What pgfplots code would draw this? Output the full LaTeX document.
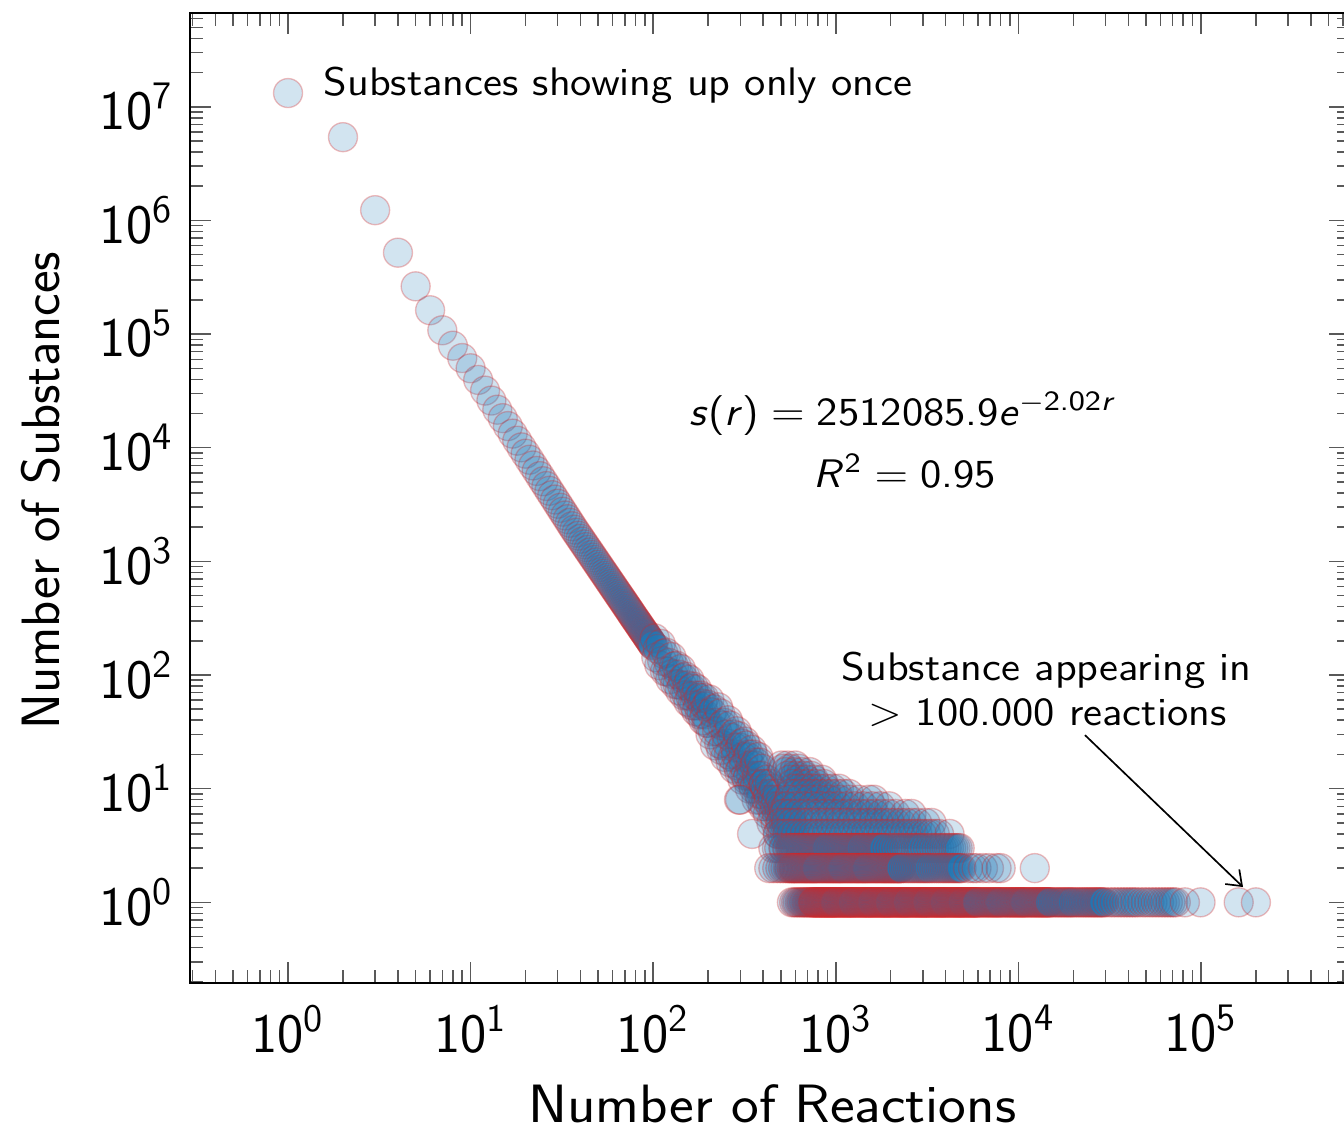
\documentclass[border=0pt]{standalone}
\usepackage{pgfplots}
\pgfplotsset{compat=1.18}
\usetikzlibrary{arrows.meta}
\definecolor{tabblue}{RGB}{31,119,180}
\definecolor{tabred}{RGB}{214,39,40}
\newcommand{\annfont}{\fontsize{11.8}{14}\selectfont\sffamily}
\newcommand{\eqsp}{\hspace{0.28em}$=$\hspace{0.28em}}
\pgfplotsset{dot/.style={only marks, mark=*, mark size=4.3pt, mark options={fill=tabblue, draw=tabred, fill opacity=0.2, draw opacity=0.3, line width=0.4pt}}}
\begin{document}
\begin{tikzpicture}
\begin{axis}[
  at={(0,0)}, anchor=south west, scale only axis,
  width=12.083cm, height=10.101cm,
  xmode=log, ymode=log, log basis x=10, log basis y=10,
  xmin=0.2904, xmax=6.55e5, ymin=0.195, ymax=6.64e7,
  xtick={1,10,100,1000,10000,100000},
  ytick={1,10,100,1000,10000,100000,1000000,10000000},
  minor xtick={0.3,0.4,0.5,0.6,0.7,0.8,0.9,2,3,4,5,6,7,8,9,20,30,40,50,60,70,80,90,200,300,400,500,600,700,800,900,2000,3000,4000,5000,6000,7000,8000,9000,20000,30000,40000,50000,60000,70000,80000,90000,200000,300000,400000,500000,600000},
  minor ytick={0.2,0.3,0.4,0.5,0.6,0.7,0.8,0.9,2,3,4,5,6,7,8,9,20,30,40,50,60,70,80,90,200,300,400,500,600,700,800,900,2000,3000,4000,5000,6000,7000,8000,9000,20000,30000,40000,50000,60000,70000,80000,90000,200000,300000,400000,500000,600000,700000,800000,900000,2000000,3000000,4000000,5000000,6000000,7000000,8000000,9000000,20000000,30000000,40000000,50000000,60000000},
  xticklabel={\pgfmathtruncatemacro{\myexp}{round(\tick)}10\textsuperscript{\myexp}},
  yticklabel={\pgfmathtruncatemacro{\myexp}{round(\tick)}10\textsuperscript{\myexp}},
  tick label style={font=\fontsize{16.5}{19}\selectfont\sffamily},
  xticklabel style={yshift=-3pt},
  yticklabel style={xshift=-1.5pt},
  major tick length=6.2pt, minor tick length=3.9pt,
  tick style={color=black!65, line width=0.45pt},
  axis line style={line width=0.6pt},
  xlabel={Number of Reactions}, ylabel={Number of Substances},
  every axis x label/.style={at={(axis description cs:0.502,-0.124)}, anchor=center, inner sep=0pt, xscale=1.09, font=\fontsize{16}{19}\selectfont\sffamily},
  every axis y label/.style={at={(axis description cs:-0.129,0.508)}, anchor=center, inner sep=0pt, rotate=90, font=\fontsize{16}{19}\selectfont\sffamily},
]
% main diagonal
\addplot[dot] coordinates {(1,1.32e7)(2,5.4e6)(3,1.23e6)(4,5.2e5)(5,2.63e5)(6,1.62e5)(7,1.08e5)(8,7.9e4)(9,6.15e4)(10,5.0e4)(11,3.95e4)(12,3.18e4)(13,2.6e4)(14,2.16e4)(15,1.82e4)(16,1.55e4)(17,1.33e4)(18,11530)(19,10070)(20,8860)(21,7840)(22,6980)(23,6250)(24,5620)(25,5070)(26,4600)(27,4180)(28,3820)(29,3500)(30,3215)(31,2962)(32,2736)(33,2533)(34,2351)(35,2186)(36,2038)(37,1903)(38,1787)(39,1681)(40,1583)(41,1494)(42,1411)(43,1335)(44,1264)(45,1199)(46,1139)(47,1082)(48,1030)(49,981)(50,935)(51,892)(52,852)(53,815)(54,780)(55,747)(56,716)(57,686)(58,659)(59,633)(60,608)(61,585)(62,563)(63,542)(64,522)(65,504)(66,486)(67,469)(68,453)(69,438)(70,423)(71,409)(72,396)(73,383)(74,371)(75,359)(76,348)(77,337)(78,327)(79,317)(80,308)(81,299)(82,291)(83,283)(84,275)(85,267)(86,260)(87,253)(88,246)(89,240)(90,234)(91,228)(92,222)(93,216)(94,211)(95,206)(96,201)(97,196)(98,191)(99,186)(100,182)
(102,210)(104,143)(106,170)(108,122)(110,188)(112,133)(114,154)(116,108)(118,157)(120,107)(122,128)(124,92)(126,144)(128,102)(130,119)(132,83)(134,121)(136,83)(138,101)(140,73)(142,113)(144,81)(146,94)(148,66)(150,97)(152,67)(154,81)(156,58)(158,91)(160,65)(162,76)(164,54)(166,79)(168,54)(170,66)(172,48)(174,75)(176,54)(178,63)(180,45)(182,66)(184,46)(186,56)(188,40)(190,63)(192,45)(194,53)(196,38)(198,55)(200,38)
(203,61)(206,30)(209,47)(212,32)(215,50)(218,24)(221,38)(224,32)(227,52)(230,25)(233,46)(236,22)(239,36)(242,24)(245,38)(248,19)(251,30)(254,25)(257,40)(260,20)(263,36)(266,17)(269,28)(272,19)(275,30)(278,15)(281,23)(284,20)(287,32)(290,16)(293,29)(296,14)(299,23)(302,15)(305,25)(308,12)(311,19)(314,16)(317,26)(320,13)(323,24)(326,12)(329,19)(332,13)(335,20)(338,10)(341,16)(344,13)(347,22)(350,11)(353,20)(356,10)(359,16)(362,11)(365,17)(368,8)(371,13)(374,11)(377,19)(380,9)(383,17)(386,8)(389,13)(392,9)(395,15)(398,7)(401,11)
(404,11)(408,7)(412,10)(416,8)(420,12)(424,6)(428,9)(432,8)(436,11)(440,7)(444,5)(448,9)(452,8)(456,6)(460,10)(464,7)(468,5)(472,8)(476,6)(480,9)(484,4)(488,7)(492,6)(496,5)(500,8)(504,4)(508,6)(512,7)(516,3)(520,5)(524,6)(528,4)(532,7)(536,5)(540,3)(544,6)(548,4)(552,5)(556,2)(560,4)(564,6)(568,3)(572,5)(580,4)(584,3)(588,5)(592,2)(596,4)(600,3)
(295,8)(299,8)(348,4)(476,3)};
% higher rows
\addplot[dot] coordinates {(505,16)(545,16)(600,16)(515,15)(560,15)(625,15)(530,14)(590,14)(650,14)(720,14)(545,13)(600,13)(665,13)(730,13)(560,12)(620,12)(690,12)(760,12)(840,12)(575,11)(640,11)(705,11)(780,11)(860,11)
(580,10)(630,10)(690,10)(750,10)(810,10)(880,10)(960,10)(1040,10)
(565,9)(610,9)(655,9)(705,9)(760,9)(815,9)(880,9)(945,9)(1020,9)(1100,9)(1180,9)
(555,8)(629,8)(714,8)(810,8)(918,8)(1042,8)(1182,8)(1340,8)(1520,8)(1620,8)
(540,7)(601,7)(669,7)(745,7)(829,7)(923,7)(1027,7)(1143,7)(1273,7)(1417,7)(1577,7)(1755,7)(1960,7)
(520,6)(568,6)(620,6)(677,6)(739,6)(807,6)(881,6)(962,6)(1051,6)(1148,6)(1253,6)(1369,6)(1494,6)(1632,6)(1782,6)(1946,6)(2125,6)(2400,6)(2600,6)
(500,5)(536,5)(574,5)(615,5)(659,5)(706,5)(756,5)(810,5)(868,5)(930,5)(996,5)(1067,5)(1143,5)(1224,5)(1312,5)(1405,5)(1505,5)(1612,5)(1727,5)(1850,5)(1982,5)(2123,5)(2274,5)(2436,5)(2610,5)(2796,5)(3100,5)(3350,5)
(480,4)(512,4)(543,4)(574,4)(607,4)(641,4)(677,4)(715,4)(755,4)(798,4)(843,4)(890,4)(940,4)(993,4)(1048,4)(1107,4)(1169,4)(1235,4)(1304,4)(1377,4)(1455,4)(1536,4)(1623,4)(1714,4)(1810,4)(1911,4)(2019,4)(2132,4)(2252,4)(2378,4)(2512,4)(2653,4)(2802,4)(2959,4)(3125,4)(3300,4)(3485,4)(3681,4)(4200,4)};
% row 3
\addplot[dot] coordinates {(455,3)(490,3)(520,3)(545,3)(560,3)(571,3)(582,3)(593,3)(604,3)(615,3)(626,3)(637,3)(648,3)(659,3)(670,3)(681,3)(692,3)(703,3)(714,3)(725,3)(736,3)(747,3)(758,3)(769,3)(780,3)(791,3)(802,3)(813,3)(824,3)(835,3)(846,3)(857,3)(868,3)(879,3)(890,3)
(902,3)(920,3)(937,3)(955,3)(972,3)(990,3)(1007,3)(1025,3)(1042,3)(1060,3)(1077,3)(1095,3)(1112,3)(1130,3)(1147,3)(1165,3)(1182,3)(1200,3)(1217,3)(1235,3)(1252,3)(1270,3)(1287,3)(1305,3)(1322,3)(1340,3)(1357,3)(1375,3)(1392,3)
(1420,3)(1445,3)(1470,3)(1495,3)(1520,3)(1545,3)(1570,3)(1595,3)(1620,3)(1645,3)(1670,3)(1695,3)(1720,3)(1745,3)(1770,3)(1795,3)(1820,3)(1845,3)
(1920,3)(1995,3)(2070,3)(2145,3)(2220,3)(2295,3)(2370,3)(2445,3)(2520,3)(2595,3)(2670,3)(2745,3)(2820,3)(2895,3)(2970,3)(3090,3)(3210,3)(3330,3)(3450,3)(3570,3)(3690,3)(3810,3)(3930,3)(4050,3)(4170,3)(4290,3)(4410,3)(4530,3)(4650,3)(4770,3)};
% row 2
\addplot[dot] coordinates {(432,2)(455,2)(478,2)(497,2)(515,2)(530,2)(546,2)(558,2)
(570,2)(577,2)(585,2)(592,2)(600,2)(607,2)(615,2)(622,2)(630,2)(637,2)(645,2)(652,2)(660,2)(667,2)(675,2)(682,2)(690,2)(697,2)(705,2)(712,2)(720,2)(727,2)(735,2)(742,2)(750,2)(757,2)(765,2)(772,2)(780,2)(787,2)(795,2)
(806,2)(817,2)(828,2)(839,2)(850,2)(861,2)(872,2)(883,2)(894,2)(905,2)(916,2)(927,2)(938,2)(949,2)(960,2)(971,2)(982,2)(993,2)(1004,2)(1015,2)(1026,2)(1037,2)(1048,2)(1059,2)(1070,2)(1081,2)(1092,2)
(1105,2)(1120,2)(1135,2)(1150,2)(1165,2)(1180,2)(1195,2)(1210,2)(1225,2)(1240,2)(1255,2)(1270,2)(1285,2)(1300,2)(1315,2)(1330,2)(1345,2)(1360,2)(1375,2)(1390,2)(1405,2)(1420,2)(1435,2)(1450,2)(1465,2)(1480,2)(1495,2)
(1516,2)(1537,2)(1558,2)(1579,2)(1600,2)(1621,2)(1642,2)(1663,2)(1684,2)(1705,2)(1726,2)(1747,2)(1768,2)(1789,2)(1810,2)(1831,2)(1852,2)(1873,2)(1894,2)(1915,2)(1936,2)(1957,2)(1978,2)(1999,2)(2020,2)(2041,2)(2062,2)(2083,2)(2104,2)(2125,2)(2146,2)(2167,2)(2188,2)(2209,2)(2230,2)(2251,2)(2272,2)(2293,2)
(2360,2)(2425,2)(2490,2)(2555,2)(2620,2)(2685,2)(2750,2)(2815,2)(2880,2)(2945,2)(3010,2)(3075,2)(3140,2)(3205,2)(3270,2)(3365,2)(3460,2)(3555,2)(3650,2)(3745,2)(3840,2)(3935,2)(4030,2)(4125,2)(4220,2)(4315,2)(4410,2)(4505,2)(4600,2)(4695,2)(4790,2)(4885,2)
(5300,2)(5650,2)(5900,2)(6400,2)(6900,2)(7600,2)(8000,2)(12300,2)};
% row 1
\addplot[dot] coordinates {(575,1)(592,1)(606,1)(618,1)(633,1)(645,1)(655,1)(667,1)(676,1)(688,1)(697,1)(706,1)(716,1)(724,1)(733,1)(741,1)(749,1)
(753,1)(758,1)(762,1)(767,1)(773,1)(777,1)(782,1)(788,1)(792,1)(797,1)(803,1)(807,1)(812,1)(818,1)(822,1)(827,1)(833,1)(837,1)(842,1)(848,1)(852,1)(857,1)(863,1)(867,1)(872,1)(878,1)(882,1)(887,1)(893,1)(897,1)(902,1)(908,1)(912,1)(917,1)(923,1)(927,1)(932,1)(938,1)(942,1)(947,1)(953,1)(957,1)(962,1)(968,1)(972,1)(977,1)(983,1)(987,1)(992,1)(998,1)
(1004,1)(1011,1)(1017,1)(1025,1)(1031,1)(1038,1)(1046,1)(1052,1)(1059,1)(1067,1)(1073,1)(1080,1)(1088,1)(1094,1)(1101,1)(1109,1)(1115,1)(1122,1)(1130,1)(1136,1)(1143,1)(1151,1)(1157,1)(1164,1)(1172,1)(1178,1)(1185,1)(1193,1)(1199,1)(1206,1)(1214,1)(1220,1)(1227,1)(1235,1)(1241,1)(1248,1)
(1257,1)(1266,1)(1276,1)(1284,1)(1293,1)(1303,1)(1311,1)(1320,1)(1330,1)(1338,1)(1347,1)(1357,1)(1365,1)(1374,1)(1384,1)(1392,1)(1401,1)(1411,1)(1419,1)(1428,1)(1438,1)(1446,1)(1455,1)(1465,1)(1473,1)(1482,1)(1492,1)(1500,1)(1509,1)(1519,1)(1527,1)(1536,1)(1546,1)(1554,1)(1563,1)(1573,1)(1581,1)(1590,1)(1600,1)
(1611,1)(1622,1)(1634,1)(1644,1)(1655,1)(1667,1)(1677,1)(1688,1)(1700,1)(1710,1)(1721,1)(1733,1)(1743,1)(1754,1)(1766,1)(1776,1)(1787,1)(1799,1)(1809,1)(1820,1)(1832,1)(1842,1)(1853,1)(1865,1)(1875,1)(1886,1)(1898,1)(1908,1)(1919,1)(1931,1)(1941,1)(1952,1)(1964,1)(1974,1)(1985,1)(1997,1)
(2011,1)(2025,1)(2040,1)(2053,1)(2067,1)(2082,1)(2095,1)(2109,1)(2124,1)(2137,1)(2151,1)(2166,1)(2179,1)(2193,1)(2208,1)(2221,1)(2235,1)(2250,1)(2263,1)(2277,1)(2292,1)(2305,1)(2319,1)(2334,1)(2347,1)(2361,1)(2376,1)(2389,1)(2403,1)(2418,1)(2431,1)(2445,1)(2460,1)(2473,1)(2487,1)(2500,1)
(2518,1)(2537,1)(2554,1)(2572,1)(2591,1)(2608,1)(2626,1)(2645,1)(2662,1)(2680,1)(2699,1)(2716,1)(2734,1)(2753,1)(2770,1)(2788,1)(2807,1)(2824,1)(2842,1)(2861,1)(2878,1)(2896,1)(2915,1)(2932,1)(2950,1)(2969,1)(2986,1)(3004,1)(3023,1)(3040,1)(3058,1)(3077,1)(3094,1)(3112,1)(3131,1)(3148,1)(3166,1)(3185,1)(3200,1)
(3223,1)(3247,1)(3269,1)(3292,1)(3316,1)(3338,1)(3361,1)(3385,1)(3407,1)(3430,1)(3454,1)(3476,1)(3499,1)(3523,1)(3545,1)(3568,1)(3592,1)(3614,1)(3637,1)(3661,1)(3683,1)(3706,1)(3730,1)(3752,1)(3775,1)(3799,1)(3821,1)(3844,1)(3868,1)(3890,1)(3913,1)(3937,1)(3959,1)(3982,1)
(4010,1)(4040,1)(4068,1)(4097,1)(4127,1)(4155,1)(4184,1)(4214,1)(4242,1)(4271,1)(4301,1)(4329,1)(4358,1)(4388,1)(4416,1)(4445,1)(4475,1)(4503,1)(4532,1)(4562,1)(4590,1)(4619,1)(4649,1)(4677,1)(4706,1)(4736,1)(4764,1)(4793,1)(4823,1)(4851,1)(4880,1)(4910,1)(4938,1)(4967,1)(4997,1)
(5032,1)(5068,1)(5102,1)(5137,1)(5173,1)(5207,1)(5242,1)(5278,1)(5312,1)(5347,1)(5383,1)(5417,1)(5452,1)(5488,1)(5522,1)(5557,1)(5593,1)(5627,1)(5662,1)(5698,1)(5732,1)(5767,1)(5803,1)(5837,1)(5872,1)(5908,1)(5942,1)(5977,1)
(6040,1)(6110,1)(6175,1)(6250,1)(6315,1)(6390,1)(6455,1)(6530,1)(6595,1)(6670,1)(6735,1)(6810,1)(6875,1)(6950,1)(7015,1)(7090,1)(7155,1)(7230,1)(7295,1)(7370,1)(7435,1)(7510,1)(7575,1)(7650,1)(7715,1)(7790,1)(7855,1)(7930,1)(8000,1)
(8095,1)(8190,1)(8290,1)(8380,1)(8480,1)(8570,1)(8670,1)(8760,1)(8860,1)(8950,1)(9050,1)(9140,1)(9240,1)(9330,1)(9430,1)(9520,1)(9620,1)(9710,1)(9810,1)(9900,1)(10000,1)(10100,1)(10190,1)(10290,1)(10380,1)(10480,1)(10570,1)(10670,1)(10760,1)(10860,1)(10950,1)
(11080,1)(11210,1)(11340,1)(11470,1)(11600,1)(11730,1)(11860,1)(11990,1)(12120,1)(12250,1)(12380,1)(12510,1)(12640,1)(12770,1)(12900,1)(13030,1)(13160,1)(13290,1)(13420,1)(13550,1)(13680,1)(13810,1)(13940,1)(14070,1)(14200,1)(14330,1)(14460,1)(14590,1)(14720,1)(14850,1)(14980,1)
(15300,1)(15650,1)(15950,1)(16300,1)(16600,1)(16950,1)(17250,1)(17600,1)(17900,1)(18250,1)(18600,1)(18900,1)(19250,1)(19550,1)(19900,1)(20400,1)(20850,1)(21350,1)(21800,1)(22300,1)(22800,1)(23250,1)(23750,1)(24200,1)(24700,1)(25200,1)(25650,1)(26150,1)(26600,1)(27100,1)(27600,1)(28050,1)(28550,1)(29000,1)(29500,1)
(30900,1)(32400,1)(33700,1)(35200,1)(36500,1)(38000,1)(39300,1)(40800,1)(42100,1)(43600,1)(45200,1)(47600,1)(49800,1)(52100,1)(54300,1)(56700,1)(58900,1)(61300,1)(63500,1)(65900,1)(68100,1)(70500,1)(72800,1)
(81700,1)(99500,1)(161000,1)(200000,1)};
% annotations
\node[anchor=base west, inner sep=0pt, xscale=1.09, font=\annfont] at (axis cs:1.555,1.267e7) {Substances showing up only once};
\node[anchor=base, inner sep=0pt, xscale=1.09, font=\annfont] at (axis cs:2333,1.58e4) {\textsl{s}(\textsl{r})\eqsp 2512085.9\textsl{e}\textsuperscript{$-$2.02\textsl{r}}};
\node[anchor=base, inner sep=0pt, xscale=1.09, font=\annfont] at (axis cs:2393,4508) {\textsl{R}\textsuperscript{2}\eqsp 0.95};
\node[anchor=base, inner sep=0pt, xscale=1.09, font=\annfont] at (axis cs:14260,90.3) {Substance appearing in};
\node[anchor=base, inner sep=0pt, xscale=1.09, font=\annfont] at (axis cs:14400,36.3) {$>$ 100.000 reactions};
\draw[-{Straight Barb[length=4pt,width=6pt]}, line width=0.5pt] (axis cs:23170,29.6) -- (axis cs:1.70e5,1.363);
\end{axis}
\pgfresetboundingbox
\path[use as bounding box] (-1.979cm,-1.521cm) rectangle (12.021cm,10.240cm);
\end{tikzpicture}
\end{document}
